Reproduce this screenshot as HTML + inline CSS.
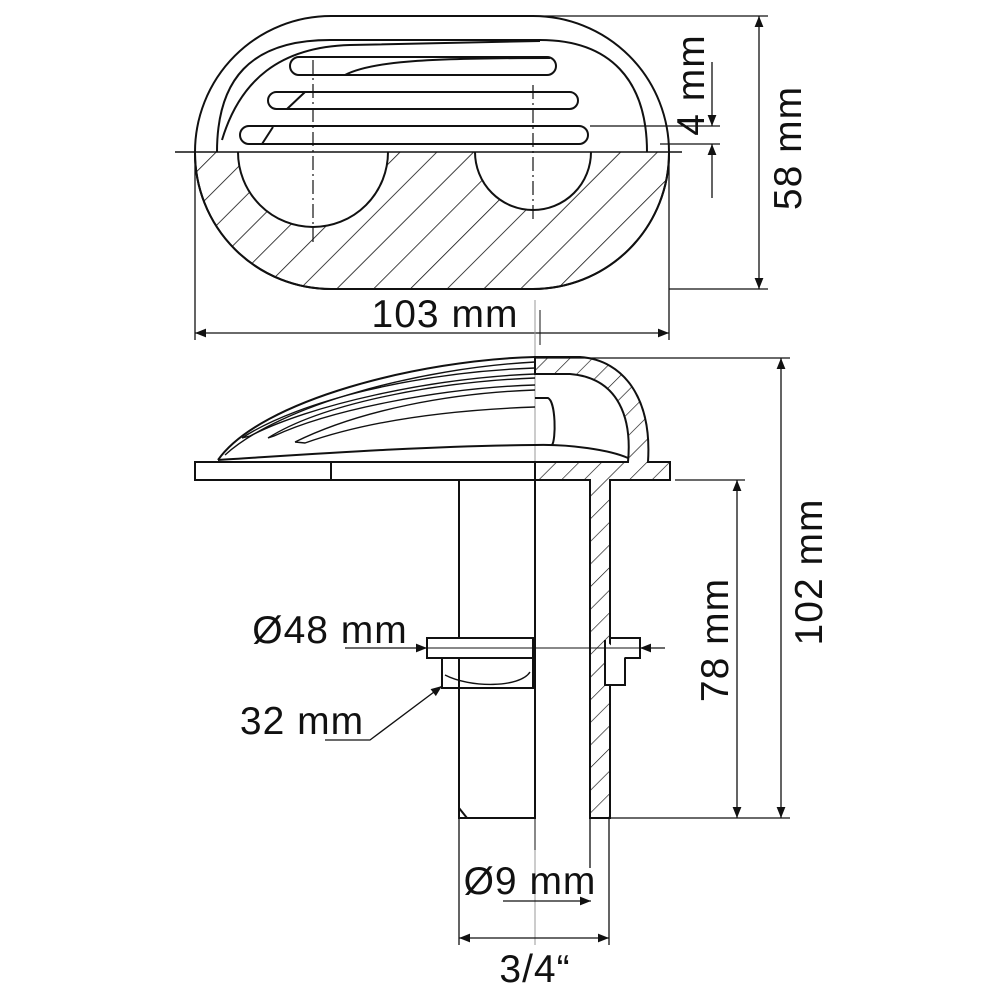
<!DOCTYPE html>
<html><head><meta charset="utf-8"><style>
html,body{margin:0;padding:0;background:#fff;}
svg{display:block;}
text{font-family:"Liberation Sans","DejaVu Sans",sans-serif;fill:#111;}
</style></head><body>
<svg width="1000" height="1000" viewBox="0 0 1000 1000" xmlns="http://www.w3.org/2000/svg">
<defs>
<marker id="a" viewBox="0 0 10 10" refX="10" refY="5" markerWidth="20" markerHeight="11" markerUnits="userSpaceOnUse" orient="auto-start-reverse"><path d="M0,1 L10,5 L0,9 z" fill="#111"/></marker>
<pattern id="h" patternUnits="userSpaceOnUse" width="26" height="26" patternTransform="rotate(45)"><line x1="0" y1="0" x2="0" y2="26" stroke="#111" stroke-width="1.6"/></pattern>
<pattern id="h2" patternUnits="userSpaceOnUse" width="16" height="16" patternTransform="rotate(45)"><line x1="0" y1="0" x2="0" y2="16" stroke="#111" stroke-width="1.3"/></pattern>
<clipPath id="lowclip"><rect x="0" y="152" width="1000" height="200"/></clipPath>
</defs>
<g fill="none" stroke="#111" stroke-width="2">
<g clip-path="url(#lowclip)">
<rect x="195" y="16" width="474" height="273" rx="136" ry="136" fill="url(#h)"/>
</g>
<rect x="195" y="16" width="474" height="273" rx="136" ry="136"/>
<circle cx="313" cy="152" r="75" fill="#fff" clip-path="url(#lowclip)"/>
<circle cx="533" cy="152" r="58" fill="#fff" clip-path="url(#lowclip)"/>
<path d="M217,152 C217,80 250,40 330,40 L540,40 C610,40 647,80 647,152" fill="#fff"/>
<path d="M222,140 C240,80 280,47 350,45 L540,41"/>
<rect x="290" y="57" width="266" height="18" rx="9"/>
<path d="M345,75 C370,62 420,58 550,58"/>
<rect x="268" y="92" width="310" height="17" rx="8.5"/>
<path d="M287,109 L305,92"/>
<rect x="240" y="126" width="348" height="18" rx="9"/>
<path d="M262,144 L273,127"/>
<line x1="175" y1="152" x2="682" y2="152" stroke-width="1.6"/>
<line x1="313" y1="60" x2="313" y2="242" stroke-width="1.2" stroke-dasharray="14,4,2,4"/>
<line x1="533" y1="85" x2="533" y2="222" stroke-width="1.2" stroke-dasharray="14,4,2,4"/>
<g stroke-width="1.3">
<line x1="195" y1="152" x2="195" y2="340"/>
<line x1="669" y1="152" x2="669" y2="340"/>
<line x1="195" y1="333" x2="669" y2="333" marker-start="url(#a)" marker-end="url(#a)"/>
<line x1="540" y1="16" x2="768" y2="16"/>
<line x1="669" y1="289" x2="768" y2="289"/>
<line x1="759" y1="16" x2="759" y2="289" marker-start="url(#a)" marker-end="url(#a)"/>
<line x1="590" y1="126" x2="720" y2="126"/>
<line x1="660" y1="144" x2="720" y2="144"/>
<line x1="712" y1="62" x2="712" y2="126" marker-end="url(#a)"/>
<line x1="712" y1="198" x2="712" y2="144" marker-end="url(#a)"/>
<line x1="540" y1="310" x2="540" y2="345" stroke-width="1"/>
</g>
<line x1="535" y1="300" x2="535" y2="945" stroke-width="1" stroke="#999"/>
<path d="M218,460 C260,400 420,360 535,357"/>
<path d="M225,455 C280,405 420,368 535,362" stroke-width="1.4"/>
<path d="M242,438 C300,400 420,372 535,368 M242,438 L250,436 C310,405 430,378 535,374" stroke-width="1.4"/>
<path d="M268,438 C320,405 430,382 535,378 M268,438 L274,436 C330,410 440,388 535,385" stroke-width="1.4"/>
<path d="M295,442 C360,410 450,393 535,390 M295,442 L305,443 C370,420 450,410 535,407" stroke-width="1.4"/>
<path d="M218,460 C300,455 420,446 535,445"/>
<path d="M535,357 L580,357 C625,360 652,400 648,462 L670,462 L670,480 L610,480 L610,818 L590,818 L590,480 L535,480 L535,462 L628,462 C632,420 620,378 570,374 L535,374 Z" fill="url(#h2)"/>
<path d="M535,445 C570,444 610,450 628,458" />
<path d="M535,398 L548,398 C556,402 556,440 552,445" />
<rect x="195" y="462" width="340" height="18" fill="#fff"/>
<line x1="331" y1="462" x2="331" y2="480"/>
<rect x="459" y="480" width="76" height="338" fill="#fff"/>
<path d="M459,808 L467,818"/>
<path d="M590,480 L590,818"/>
<rect x="427" y="638" width="106" height="20" fill="#fff"/>
<path d="M442,658 L442,688 L533,688 L533,658"/>
<path d="M445,675 C470,688 520,688 530,672" stroke-width="1.4"/>
<rect x="610" y="638" width="30" height="20" fill="#fff"/>
<path d="M605,640 L605,685 L625,685 L625,658" fill="#fff"/>
<g stroke-width="1.3">
<line x1="535" y1="358" x2="790" y2="358"/>
<line x1="610" y1="818" x2="790" y2="818"/>
<line x1="781" y1="358" x2="781" y2="818" marker-start="url(#a)" marker-end="url(#a)"/>
<line x1="675" y1="480" x2="745" y2="480"/>
<line x1="737" y1="480" x2="737" y2="818" marker-start="url(#a)" marker-end="url(#a)"/>
<line x1="345" y1="648" x2="427" y2="648" marker-end="url(#a)"/>
<line x1="427" y1="648" x2="640" y2="648" stroke-width="1"/>
<line x1="665" y1="648" x2="640" y2="648" marker-end="url(#a)"/>
<polyline points="325,740 370,740 442,686" marker-end="url(#a)"/>
<line x1="459" y1="818" x2="459" y2="945"/>
<line x1="609" y1="818" x2="609" y2="945"/>
<line x1="590" y1="818" x2="590" y2="868"/>
<line x1="535" y1="818" x2="535" y2="850" stroke-width="1"/>
<line x1="503" y1="901" x2="591" y2="901" marker-end="url(#a)"/>
<line x1="459" y1="938" x2="609" y2="938" marker-start="url(#a)" marker-end="url(#a)"/>
</g>
</g>
<g font-size="39" letter-spacing="1">
<text x="445" y="327" text-anchor="middle">103 mm</text>
<text transform="translate(801,148) rotate(-90)" text-anchor="middle">58 mm</text>
<text transform="translate(704,85) rotate(-90)" text-anchor="middle">4 mm</text>
<text transform="translate(822,572) rotate(-90)" text-anchor="middle">102 mm</text>
<text transform="translate(728,640) rotate(-90)" text-anchor="middle">78 mm</text>
<text x="330" y="643" text-anchor="middle">Ø48 mm</text>
<text x="302" y="734" text-anchor="middle">32 mm</text>
<text x="530" y="894" text-anchor="middle">Ø9 mm</text>
<text x="535" y="982" text-anchor="middle">3/4“</text>
</g>
</svg>
</body></html>
